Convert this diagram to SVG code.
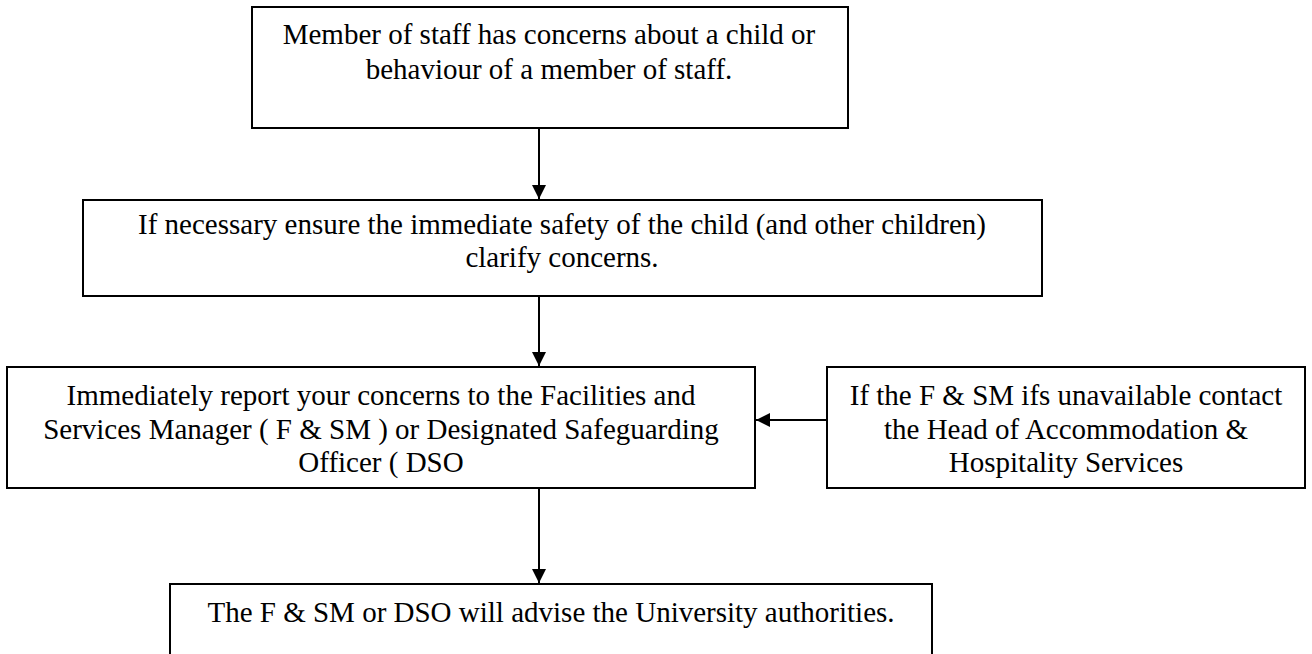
<svg xmlns="http://www.w3.org/2000/svg" width="1312" height="654" viewBox="0 0 1312 654">
<style>
.box{fill:#fff;stroke:#000;stroke-width:2}
.t{font-family:"Liberation Serif","Times New Roman",serif;font-size:29px;fill:#000;text-anchor:middle}
.c{stroke:#000;stroke-width:2;fill:none;marker-end:url(#ah)}
</style>
<defs>
<marker id="ah" viewBox="0 0 14 14" refX="14" refY="7" markerWidth="14" markerHeight="14" markerUnits="userSpaceOnUse" orient="auto">
<path d="M0,0 L14,7 L0,14 Z" fill="#000"/>
</marker>
</defs>
<rect width="1312" height="654" fill="#fff"/>
<g id="n1">
<rect class="box" x="252" y="7" width="596" height="121"/>
<text class="t" x="549" y="44">Member of staff has concerns about a child or</text>
<text class="t" x="549" y="79">behaviour of a member of staff.</text>
</g>
<g id="n2">
<rect class="box" x="83" y="200" width="959" height="96"/>
<text class="t" x="562" y="234">If necessary ensure the immediate safety of the child (and other children)</text>
<text class="t" x="562" y="267">clarify concerns.</text>
</g>
<g id="n3">
<rect class="box" x="7" y="367" width="748" height="121"/>
<text class="t" x="381" y="405">Immediately report your concerns to the Facilities and</text>
<text class="t" x="381" y="439">Services Manager ( F &amp; SM ) or Designated Safeguarding</text>
<text class="t" x="381" y="472">Officer ( DSO</text>
</g>
<g id="n4">
<rect class="box" x="827" y="367" width="478" height="121"/>
<text class="t" x="1066" y="405">If the F &amp; SM ifs unavailable contact</text>
<text class="t" x="1066" y="439">the Head of Accommodation &amp;</text>
<text class="t" x="1066" y="472">Hospitality Services</text>
</g>
<g id="n5">
<rect class="box" x="170" y="584" width="762" height="90"/>
<text class="t" x="551" y="622">The F &amp; SM or DSO will advise the University authorities.</text>
</g>
<g id="connectors">
<line class="c" x1="539" y1="128" x2="539" y2="199"/>
<line class="c" x1="539" y1="296" x2="539" y2="366"/>
<line class="c" x1="827" y1="420" x2="756" y2="420"/>
<line class="c" x1="539" y1="488" x2="539" y2="583"/>
</g>
</svg>
